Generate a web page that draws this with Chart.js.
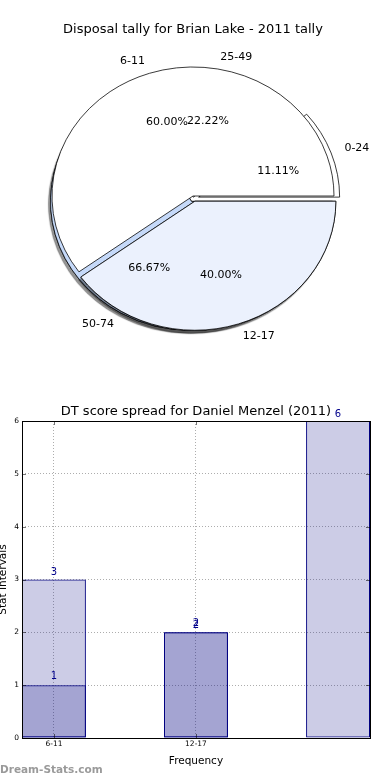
<!DOCTYPE html>
<html>
<head>
<meta charset="utf-8">
<script src="https://cdn.jsdelivr.net/npm/chart.js@4.4.0/dist/chart.umd.min.js"></script>
<style>
  body { margin: 0; background: #fff; width: 390px; height: 780px; overflow: hidden; position: relative; }
  canvas { position: absolute; }
  #pie1, #pie2 { left: 0; top: 0; }
  #bars { left: -3px; top: 400px; }
  #mark { position: absolute; left: 0; top: 763px; font: bold 10.5px "DejaVu Sans", sans-serif; color: #9a9a9a; }
</style>
</head>
<body>
<canvas id="pie1" width="390" height="366"></canvas>
<canvas id="pie2" width="390" height="360"></canvas>
<canvas id="bars" width="393" height="380"></canvas>
<div id="mark">Dream-Stats.com</div>
<script>
// first pie (drawn underneath)
const tallyLabels = ['0-24', '25-49', '50-74'];
const tallyValues = [1, 2, 6];
const tallyColors = ['#ffffff', '#ffffff', '#c5d9f9'];
const tallyExplode = [6, 2, 3];

// second pie (drawn on top)
const ageLabels = ['6-11', '12-17'];
const ageValues = [3, 2];
const ageColors = ['#ffffff', '#ebf1fd'];
const ageExplode = [0, 6];

// bar chart
const barCats = ['6-11', '12-17', ''];
const barTotal = [3, 2, 6];
const barPart = [1, 2, null];
const yTicks = [0, 1, 2, 3, 4, 5, 6];

const FONT = '"DejaVu Sans", sans-serif';
Chart.defaults.font.family = FONT;
Chart.defaults.color = '#000';

const SQUASH = 0.915; // pie is drawn as an ellipse

// draws arcs pulled out along their middle angle, with a drop shadow
const explodedPie = {
    id: 'explodedPie',
    beforeDatasetDraw(chart, args) {
        const ctx = chart.ctx;
        const ds = chart.data.datasets[args.index];
        const arcs = args.meta.data;
        if (!arcs.length) return false;
        const cx = arcs[0].x, cy = arcs[0].y;
        ctx.save();
        ctx.translate(cx, cy);
        ctx.scale(1, SQUASH);
        ctx.translate(-cx, -cy);
        const drawArc = (arc, i) => {
            const mid = (arc.startAngle + arc.endAngle) / 2;
            ctx.save();
            ctx.translate(Math.cos(mid) * ds.explode[i], Math.sin(mid) * ds.explode[i]);
            arc.draw(ctx);
            ctx.restore();
        };
        // shadow pass
        ctx.save();
        ctx.shadowColor = 'rgba(0,0,0,0.42)';
        ctx.shadowOffsetX = -2;
        ctx.shadowOffsetY = 3;
        ctx.shadowBlur = 1;
        arcs.forEach((arc, i) => { if (ds.shadow[i]) drawArc(arc, i); });
        ctx.restore();
        arcs.forEach(drawArc);
        ctx.restore();
        return false;
    }
};

function makePie(id, labels, values, colors, explode, shadow, titleColor, extraPlugins) {
    // matplotlib goes counter clockwise from 3 o'clock, so reverse and start at 0 rad
    return new Chart(document.getElementById(id), {
        type: 'pie',
        data: {
            labels: labels.slice().reverse(),
            datasets: [{
                data: values.slice().reverse(),
                backgroundColor: colors.slice().reverse(),
                borderColor: '#000',
                borderWidth: 0.8,
                rotation: 90,
                radius: 141,
                explode: explode.slice().reverse(),
                shadow: shadow.slice().reverse()
            }]
        },
        options: {
            responsive: false,
            animation: false,
            events: [],
            layout: { padding: { left: 0, right: 4, top: 0, bottom: 5.8 } },
            plugins: {
                legend: { display: false },
                tooltip: { enabled: false },
                title: {
                    display: true,
                    text: 'Disposal tally for Brian Lake - 2011 tally',
                    color: titleColor,
                    font: { family: FONT, size: 13, weight: 'normal' },
                    padding: { top: 22.2, bottom: 0 }
                }
            }
        },
        plugins: [explodedPie].concat(extraPlugins)
    });
}

// the first pie's canvas is a bit taller, so its centre sits 3px lower
const tallyChart = makePie('pie1', tallyLabels, tallyValues, tallyColors, tallyExplode,
    [false, false, true], '#000', []);

// labels of both pies go on the top canvas
const pieText = {
    id: 'pieText',
    afterDraw(chart) {
        const ctx = chart.ctx;
        ctx.save();
        ctx.font = '11px ' + FONT;
        ctx.fillStyle = '#000';
        ctx.textBaseline = 'middle';
        [tallyChart, chart].forEach(ch => {
            const ds = ch.data.datasets[0];
            const total = ds.data.reduce((a, b) => a + b, 0);
            ch.getDatasetMeta(0).data.forEach((arc, i) => {
                const mid = (arc.startAngle + arc.endAngle) / 2;
                const c = Math.cos(mid), s = Math.sin(mid);
                const e = ds.explode[i];
                const r = arc.outerRadius;
                const px = d => arc.x + c * (e + d * r);
                const py = d => arc.y + SQUASH * s * (e + d * r);
                ctx.textAlign = c > 0 ? 'left' : 'right';
                ctx.fillText(ch.data.labels[i], px(1.1), py(1.1));
                ctx.textAlign = 'center';
                ctx.fillText((ds.data[i] / total * 100).toFixed(2) + '%', px(0.6), py(0.6));
            });
        });
        ctx.restore();
    }
};

const ageChart = makePie('pie2', ageLabels, ageValues, ageColors, ageExplode,
    [false, true], 'rgba(0,0,0,0)', [pieText]);

// value labels, frame, inward ticks and the axes title
const barText = {
    id: 'barText',
    afterDatasetsDraw(chart) {
        const ctx = chart.ctx;
        const a = chart.chartArea;
        ctx.save();
        ctx.font = '10px ' + FONT;
        ctx.fillStyle = '#00008b';
        ctx.textAlign = 'center';
        ctx.textBaseline = 'bottom';
        chart.data.datasets.forEach((ds, di) => {
            chart.getDatasetMeta(di).data.forEach((bar, i) => {
                ctx.fillText(String(ds.data[i].y), bar.x, bar.y - 2 - 2 * di);
            });
        });

        ctx.strokeStyle = 'rgba(0,0,0,0.55)';
        ctx.lineWidth = 1;
        ctx.beginPath();
        chart.scales.y.ticks.forEach(t => {
            const y = Math.round(chart.scales.y.getPixelForValue(t.value)) + 0.5;
            ctx.moveTo(a.left, y); ctx.lineTo(a.left + 4, y);
            ctx.moveTo(a.right, y); ctx.lineTo(a.right - 4, y);
        });
        chart.scales.x.ticks.forEach(t => {
            const x = Math.round(chart.scales.x.getPixelForValue(t.value)) + 0.5;
            ctx.moveTo(x, a.top); ctx.lineTo(x, a.top + 4);
            ctx.moveTo(x, a.bottom); ctx.lineTo(x, a.bottom - 4);
        });
        ctx.stroke();

        ctx.strokeStyle = '#000';
        ctx.setLineDash([]);
        ctx.strokeRect(Math.round(a.left) + 0.5, Math.round(a.top) + 0.5,
            Math.round(a.right - a.left), Math.round(a.bottom - a.top));

        ctx.fillStyle = '#000';
        ctx.font = '13px ' + FONT;
        ctx.textBaseline = 'middle';
        ctx.fillText('DT score spread for Daniel Menzel (2011)', (a.left + a.right) / 2, a.top - 9);
        ctx.restore();
    }
};

const gridOpts = { color: 'rgba(0,0,0,0.32)', drawTicks: false, offset: false };
const borderOpts = { display: false, dash: [1, 2] };

new Chart(document.getElementById('bars'), {
    type: 'bar',
    data: {
        datasets: [
            {
                data: barTotal.map((v, i) => ({ x: i, y: v })),
                backgroundColor: 'rgba(0,0,128,0.2)',
                borderColor: '#000080',
                borderWidth: 1,
                borderSkipped: false
            },
            {
                data: barPart.map((v, i) => v === null ? null : ({ x: i, y: v })).filter(Boolean),
                backgroundColor: 'rgba(0,0,128,0.2)',
                borderColor: '#000080',
                borderWidth: 1,
                borderSkipped: false
            }
        ]
    },
    options: {
        responsive: false,
        animation: false,
        events: [],
        grouped: false,
        barPercentage: 0.45,
        categoryPercentage: 1,
        layout: { padding: { left: 0, right: 20, top: 21, bottom: 12.7 } },
        plugins: {
            legend: { display: false },
            tooltip: { enabled: false }
        },
        scales: {
            x: {
                type: 'linear',
                offset: false,
                min: -0.225,
                max: 2.225,
                afterBuildTicks: s => {
                    s.ticks = barCats.map((c, i) => i).filter(i => barCats[i]).map(v => ({ value: v }));
                },
                ticks: {
                    callback: v => barCats[v],
                    font: { size: 7.5 },
                    padding: 2,
                    autoSkip: false,
                    maxRotation: 0
                },
                grid: gridOpts,
                border: borderOpts,
                title: { display: true, text: 'Frequency', font: { size: 10.5 }, padding: { top: 3.7, bottom: 0 } }
            },
            y: {
                min: 0,
                max: 6,
                afterBuildTicks: s => { s.ticks = yTicks.map(v => ({ value: v })); },
                ticks: { font: { size: 7.5 }, padding: 3 },
                grid: gridOpts,
                border: borderOpts,
                title: { display: true, text: 'Stat Intervals', font: { size: 10.5 }, padding: { top: 0, bottom: 1.6 } }
            }
        }
    },
    plugins: [barText]
});
</script>
</body>
</html>
